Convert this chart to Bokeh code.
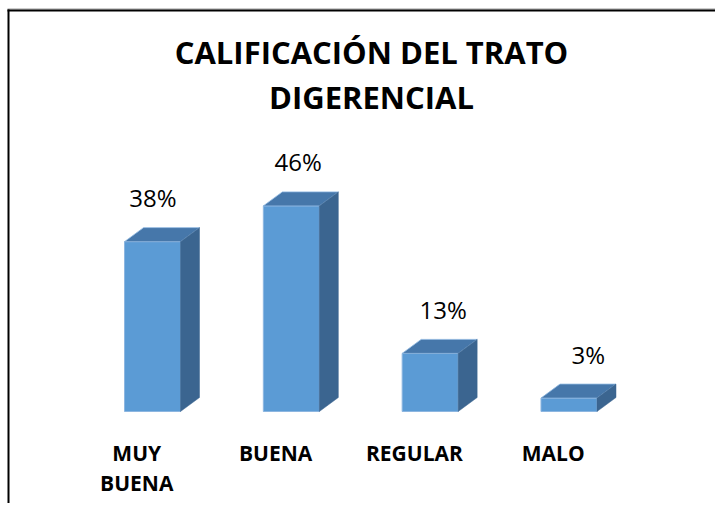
from bokeh.plotting import figure
from bokeh.models import Range1d, ColumnDataSource
from bokeh.core.properties import value
from bokeh.embed import file_html
from bokeh.resources import INLINE

# ---- data ----
title_lines = ["CALIFICACIÓN DEL TRATO", "DIGERENCIAL"]
categories = ["MUY\nBUENA", "BUENA", "REGULAR", "MALO"]
percentages = [38, 46, 13, 3]
value_labels = ["38%", "46%", "13%", "3%"]

# ---- layout (pixels) ----
W, H = 715, 503
X0_PAGE = 152.0      # x of first bar centre
STEP = 138.83        # px between bar centres
BASE_PAGE = 411.0    # y of 0 %
PX_PER_PCT = 4.47    # px per percentage point
K = 0.42             # baseline correction (fraction of font size)


def ux(px):
    return (px - X0_PAGE) / STEP


def uy(py):
    return (BASE_PAGE - py) / PX_PER_PCT


p = figure(width=W, height=H, output_backend="svg", toolbar_location=None,
           x_range=Range1d(ux(0), ux(W)), y_range=Range1d(uy(H), uy(0)),
           x_axis_location=None, y_axis_location=None, min_border=0,
           background_fill_color="white", border_fill_color="white")
p.grid.visible = False
p.outline_line_color = None

FRONT = "#5B9BD5"
TOP = "#4677AA"
SIDE = "#3B6590"
EDGE = "#8DB6E0"

hw = 28 / STEP
dx = 19 / STEP
dy = 14 / PX_PER_PCT

idx = list(range(len(categories)))

front = ColumnDataSource(dict(left=[i - hw for i in idx], right=[i + hw for i in idx],
                              bottom=[0] * len(idx), top=percentages))
p.quad(left="left", right="right", bottom="bottom", top="top", source=front,
       fill_color=FRONT, line_color=EDGE, line_width=1)

top_xs = [[i - hw, i + hw, i + hw + dx, i - hw + dx] for i in idx]
top_ys = [[v, v, v + dy, v + dy] for v in percentages]
p.patches(top_xs, top_ys, fill_color=TOP, line_color=EDGE, line_width=0.8)

side_xs = [[i + hw, i + hw + dx, i + hw + dx, i + hw] for i in idx]
side_ys = [[0, dy, v + dy, v] for v in percentages]
p.patches(side_xs, side_ys, fill_color=SIDE, line_color=SIDE, line_width=0.5)

# value labels
VFS = 24
vl = ColumnDataSource(dict(
    x=[i + (0.5 + 6.3 * i) / STEP for i in idx],
    y=[v + (34 + K * VFS) / PX_PER_PCT for v in percentages],
    t=value_labels))
p.text(x="x", y="y", text="t", source=vl, text_font=value("Open Sans"),
       text_font_size=f"{VFS}px", text_color="#000000", text_align="center",
       text_baseline="alphabetic")

# category labels (multi-line)
CFS = 21
cx, cy, ct = [], [], []
for i, c in zip(idx, categories):
    for k, line in enumerate(c.split("\n")):
        cx.append(i - 15.75 / STEP)
        cy.append(uy(461.7 + 29.5 * k - K * CFS))
        ct.append(line)
p.text(x=cx, y=cy, text=ct, text_font=value("Open Sans"), text_font_style="bold",
       text_font_size=f"{CFS}px", text_color="#000000", text_align="center",
       text_baseline="alphabetic")

# title
TFS = 31
p.text(x=[ux(371)] * 2, y=[uy(65 - K * TFS), uy(110 - K * TFS)], text=title_lines,
       text_font=value("Open Sans"), text_font_style="bold", text_font_size=f"{TFS}px",
       text_color="#000000", text_align="center", text_baseline="alphabetic")

# chart border (only the left and top edges fall inside the crop)
p.segment(x0=[ux(7)], y0=[uy(8.5)], x1=[ux(W)], y1=[uy(8.5)],
          line_color="#9a9a9a", line_width=1)
p.segment(x0=[ux(7), ux(8)], y0=[uy(10), uy(9)], x1=[ux(W), ux(8)], y1=[uy(10), uy(H)],
          line_color="#000000", line_width=2)

open("out.html", "w").write(file_html(p, INLINE))
